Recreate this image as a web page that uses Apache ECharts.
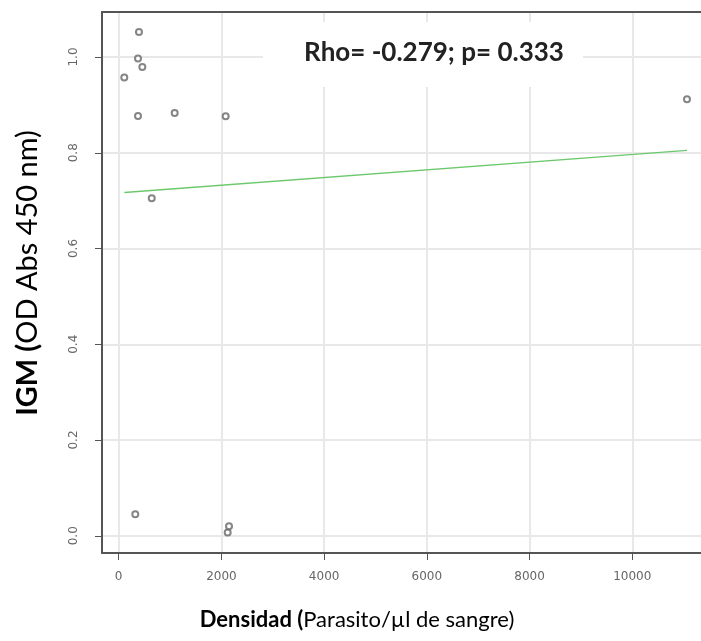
<!DOCTYPE html>
<html>
<head>
<meta charset="utf-8">
<script src="https://cdn.jsdelivr.net/npm/echarts@6/dist/echarts.min.js"></script>
<style>
	html, body { margin: 0; padding: 0; background: #fff; }
	#chart { width: 701px; height: 641px; }
</style>
</head>
<body>
<div id="chart"></div>
<script>
(function(){
	'use strict';

	// data
	var densidad = [109, 395, 376, 460, 376, 1090, 2083, 643, 11065, 323, 2122, 2148];
	var igm = [0.957, 1.052, 0.997, 0.979, 0.877, 0.883, 0.876, 0.705, 0.912, 0.045, 0.007, 0.020];
	// fitted line ends
	var fitX = [109, 11065];
	var fitY = [0.717, 0.805];
	// ticks
	var xTicks = [0, 2000, 4000, 6000, 8000, 10000];
	var yTicks = [0, 0.2, 0.4, 0.6, 0.8, 1.0];
	var statText = 'Rho= -0.279; p= 0.333';

	var points = densidad.map(function(d, i){ return [d, igm[i]]; });
	var fit = fitX.map(function(d, i){ return [d, fitY[i]]; });

	var myChart = echarts.init(document.getElementById('chart'));

	var axisLine = { show: true, onZero: false, lineStyle: { color: '#555', width: 2 } };
	var split = { show: true, lineStyle: { color: '#e8e8e8', width: 2 } };

	var option = {
		backgroundColor: '#fff',
		animation: false,
		grid: { left: 102, top: 12, right: 0, bottom: 88 },
		xAxis: [
			{
				type: 'value',
				min: -325, max: 11338,
				axisLine: axisLine,
				axisTick: { show: true, length: 7, customValues: xTicks, lineStyle: { color: '#555' } },
				axisLabel: {
					customValues: xTicks, margin: 18, color: '#666', fontSize: 12,
					fontFamily: 'DejaVu Sans',
					formatter: function(v){ return String(v); }
				},
				splitLine: split
			},
			{
				// top border of the box
				type: 'value', position: 'top',
				min: -325, max: 11338,
				axisLine: axisLine,
				axisTick: { show: false },
				axisLabel: { show: false },
				splitLine: { show: false }
			}
		],
		yAxis: {
			type: 'value',
			min: -0.036, max: 1.094,
			axisLine: axisLine,
			axisTick: { show: true, length: 7, customValues: yTicks, lineStyle: { color: '#555' } },
			axisLabel: {
				customValues: yTicks, rotate: 90, margin: 22, color: '#666', fontSize: 12,
				fontFamily: 'DejaVu Sans',
				formatter: function(v){ return v.toFixed(1); }
			},
			splitLine: split
		},
		series: [
			{
				type: 'line',
				data: fit,
				symbol: 'none',
				lineStyle: { color: '#6cc86c', width: 1.3 },
				z: 2
			},
			{
				type: 'scatter',
				data: points,
				symbol: 'emptyCircle',
				symbolSize: 6,
				itemStyle: { color: '#666', borderColor: '#666', borderWidth: 1 },
				z: 3
			}
		],
		graphic: [
			{
				type: 'rect',
				shape: { x: 263, y: 22, width: 320, height: 65 },
				style: { fill: '#fff' },
				z: 1
			},
			{
				type: 'text',
				x: 434, y: 53,
				style: {
					text: statText,
					font: 'bold 26px Lato',
					fill: '#222',
					align: 'center',
					verticalAlign: 'middle'
				},
				z: 2
			},
			{
				type: 'text',
				x: 357, y: 620,
				style: {
					text: '{b|Densidad (}{n|Parasito/µl de sangre)}',
					align: 'center',
					verticalAlign: 'middle',
					rich: {
						b: { font: 'bold 22px Lato', fill: '#000' },
						n: { font: '22px Lato', fill: '#000' }
					}
				}
			},
			{
				type: 'text',
				x: 28, y: 273,
				rotation: Math.PI / 2,
				style: {
					text: '{b|IGM (}{n|OD Abs 450 nm)}',
					align: 'center',
					verticalAlign: 'middle',
					rich: {
						b: { font: 'bold 29px Lato', fill: '#000' },
						n: { font: '29px Lato', fill: '#000' }
					}
				}
			}
		]
	};
	myChart.setOption(option);
})();
</script>
</body>
</html>
